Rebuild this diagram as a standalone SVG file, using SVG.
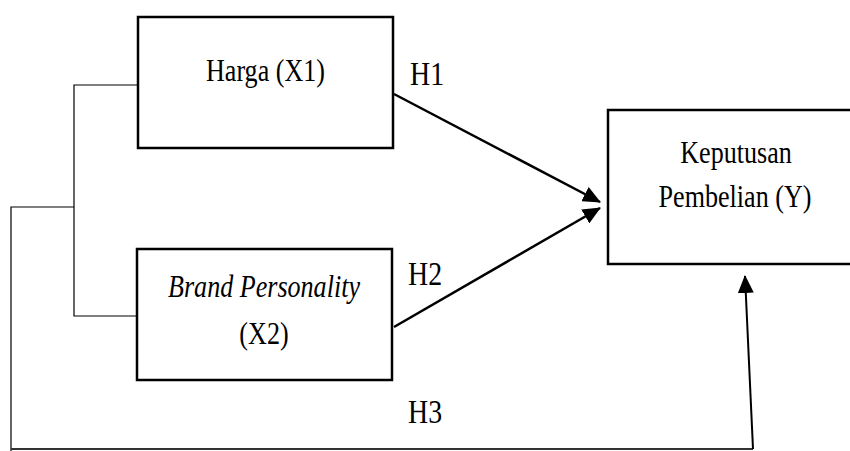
<svg xmlns="http://www.w3.org/2000/svg" width="850" height="451" viewBox="0 0 850 451">
<style>
.box{fill:#fff;stroke:#000;stroke-width:2.5}
.t{font-family:"Liberation Serif","Times New Roman",serif;font-size:32px;fill:#000}
.h{font-family:"Liberation Serif","Times New Roman",serif;font-size:34px;fill:#000}
.arr{fill:none;stroke:#000;stroke-width:2.5}
.thin{fill:none;stroke:#000;stroke-width:1.2}
</style>
<defs>
<marker id="ah" markerUnits="userSpaceOnUse" markerWidth="18" markerHeight="16" refX="17" refY="8" orient="auto" viewBox="0 0 18 16">
<path d="M0,0 L18,8 L0,16 Z" fill="#000"/>
</marker>
</defs>
<rect width="850" height="451" fill="#fff"/>
<g id="connectors">
<polyline class="thin" points="138,85 74,85 74,316 137,316"/>
<polyline class="thin" points="74,207 11,207 11,451"/>
<line x1="11" y1="449" x2="753" y2="449" stroke="#333" stroke-width="2"/>
<line class="arr" x1="394" y1="94" x2="600" y2="202" marker-end="url(#ah)"/>
<line class="arr" x1="394" y1="327" x2="600" y2="208" marker-end="url(#ah)"/>
<line x1="753" y1="449" x2="745" y2="276" stroke="#000" stroke-width="2" marker-end="url(#ah)"/>
</g>
<g id="harga">
<rect class="box" x="138" y="17" width="255" height="131"/>
<text class="t" transform="translate(265.5,80.5) scale(0.815,1)" text-anchor="middle">Harga (X1)</text>
</g>
<g id="brand">
<rect class="box" x="137" y="249" width="255" height="131"/>
<text class="t" transform="translate(264,297) scale(0.815,1)" text-anchor="middle" font-style="italic">Brand Personality</text>
<text class="t" transform="translate(264,344) scale(0.815,1)" text-anchor="middle">(X2)</text>
</g>
<g id="keputusan">
<rect class="box" x="608" y="110" width="260" height="154"/>
<text class="t" transform="translate(736,163) scale(0.815,1)" text-anchor="middle">Keputusan</text>
<text class="t" transform="translate(735,207) scale(0.815,1)" text-anchor="middle">Pembelian (Y)</text>
</g>
<g id="labels">
<text class="h" transform="translate(410,85) scale(0.82,1)">H1</text>
<text class="h" transform="translate(408,285) scale(0.82,1)">H2</text>
<text class="h" transform="translate(408,423) scale(0.82,1)">H3</text>
</g>
</svg>
